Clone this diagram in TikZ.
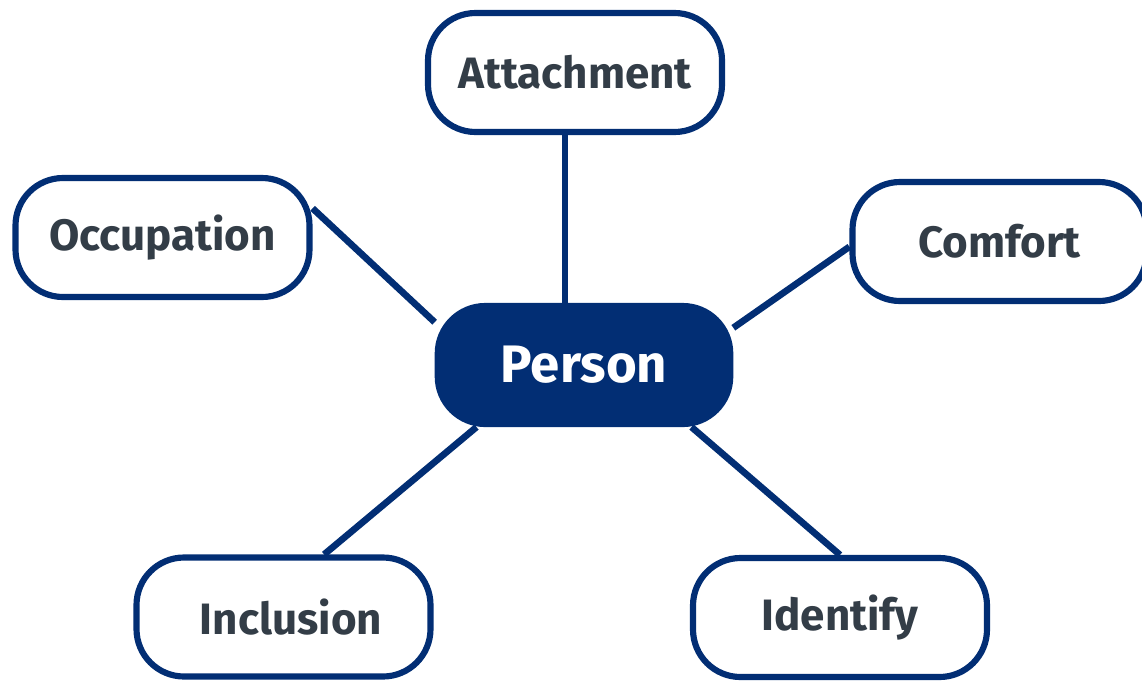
\documentclass[tikz,border=0pt]{standalone}
\usepackage{fontspec}
\setmainfont{Fira Sans}
\usepackage{tikz}
\usetikzlibrary{backgrounds}
\definecolor{navy}{HTML}{022E74}
\definecolor{inkgrey}{HTML}{333D47}
\tikzset{
  {topic/.style} ={rectangle, rounded corners=0.95cm, draw=navy,
                line width=3.5pt, fill=white, text=inkgrey,
                minimum width=5.88cm, minimum height=2.38cm,
                font=\fontsize{25}{29}\selectfont\bfseries},
  {core/.style} ={topic, fill=navy, text=white,
                minimum width=5.85cm, minimum height=2.36cm,
                font=\fontsize{30}{34}\selectfont\bfseries},
  {link/.style} ={draw=navy, line width=3.8pt},
}

\begin{document}
\begin{tikzpicture}
\useasboundingbox (0,0) rectangle (22.84,-13.62);
\node[core] (per) at (11.68,-7.30) {Person};
\node[topic] (att) at (11.50,-1.45) {Attachment};
\node[topic] (occ) at (3.25,-4.75) {Occupation};
\node[topic] (com) at (19.99,-4.83) {Comfort};
\node[topic] (inc) at (5.67,-12.34) {\hspace*{3mm}Inclusion};
\node[topic] (idf) at (16.80,-12.35) {\raisebox{-1mm}{Identify}};
\begin{pgfonlayer}{background}
\path[link] ([xshift=-2mm]att.south) -- ([xshift=-2mm]att.south |- per.north);
\path[link] (occ.11) -- (per.164);
\path[link] (com.182) -- (per.14);
\path[link] (inc.57) -- (per.210);
\path[link] (idf.north) -- (per.-30);
\end{pgfonlayer}
\end{tikzpicture}
\end{document}
